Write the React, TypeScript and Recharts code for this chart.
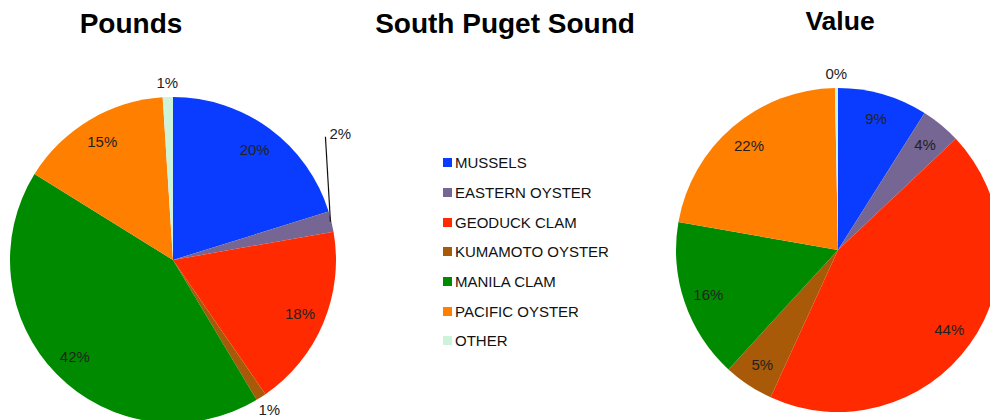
import React from 'react';
import { PieChart, Pie, Cell, Legend } from 'recharts';

const categories = [
  'MUSSELS',
  'EASTERN OYSTER',
  'GEODUCK CLAM',
  'KUMAMOTO OYSTER',
  'MANILA CLAM',
  'PACIFIC OYSTER',
  'OTHER',
];
// percent of pounds harvested, clockwise from 12 o'clock
const poundsShare = [20, 2, 18, 1, 42, 15, 1];
// percent of value, "OTHER" shows as 0%
const valueShare = [9, 4, 44, 5, 16, 22, 0.3];

const colors = ['#0a3cff', '#766693', '#ff2a00', '#a85a08', '#008a00', '#ff7f00', '#cdf3da'];

const FONT = '"Liberation Sans", Arial, Helvetica, sans-serif';
const RAD = Math.PI / 180;

const poundsData = categories.map((name, i) => ({ name, value: poundsShare[i] }));
const valueData = categories.map((name, i) => ({ name, value: valueShare[i] }));

const makeLabel = (callouts: string[]) => (props: any) => {
  const { cx, cy, midAngle, outerRadius, value, name, index } = props;
  const cos = Math.cos(-midAngle * RAD);
  const sin = Math.sin(-midAngle * RAD);
  const text = `${Math.round(value)}%`;

  if (callouts.includes(name)) {
    // leader line going straight up from the slice edge
    const sx = cx + (outerRadius - 1) * cos;
    const sy = cy + (outerRadius - 1) * sin;
    const ex = sx - 5;
    const ey = sy - 85;
    return (
      <g key={`lbl-${index}`}>
        <line x1={sx} y1={sy} x2={ex} y2={ey} stroke="#111" strokeWidth={1.2} />
        <text x={ex + 4} y={ey + 2} fontSize={15} fill="#222" fontFamily={FONT} textAnchor="start">
          {text}
        </text>
      </g>
    );
  }

  const r = value < 3 ? outerRadius + 15 : outerRadius * 0.845;
  const x = cx + r * cos;
  const y = cy + r * sin;
  return (
    <text
      key={`lbl-${index}`}
      x={x}
      y={y}
      fontSize={15}
      fill="#222"
      fontFamily={FONT}
      textAnchor="middle"
      dominantBaseline="central"
    >
      {text}
    </text>
  );
};

const renderLegend = () => (
  <div style={{ fontFamily: FONT, fontSize: 15, color: '#111' }}>
    {categories.map((c, i) => (
      <div key={c} style={{ display: 'flex', alignItems: 'center', height: 29.7 }}>
        <span
          style={{ width: 9, height: 9, background: colors[i], marginRight: 3, display: 'inline-block' }}
        />
        <span>{c}</span>
      </div>
    ))}
  </div>
);

export default function App() {
  return (
    <div style={{ position: 'absolute', left: 0, top: 0, width: 990, height: 420, background: '#fff' }}>
      <PieChart width={990} height={420} margin={{ top: 0, right: 0, bottom: 0, left: 0 }}>
        <Pie
          data={poundsData}
          dataKey="value"
          nameKey="name"
          cx={173}
          cy={260}
          outerRadius={163}
          startAngle={90}
          endAngle={-270}
          stroke="none"
          label={makeLabel(['EASTERN OYSTER'])}
          labelLine={false}
          isAnimationActive={false}
        >
          {poundsData.map((d, i) => (
            <Cell key={d.name} fill={colors[i]} />
          ))}
        </Pie>
        <Pie
          data={valueData}
          dataKey="value"
          nameKey="name"
          cx={838}
          cy={250}
          outerRadius={162}
          startAngle={90}
          endAngle={-270}
          stroke="none"
          label={makeLabel([])}
          labelLine={false}
          isAnimationActive={false}
        >
          {valueData.map((d, i) => (
            <Cell key={d.name} fill={colors[i]} />
          ))}
        </Pie>
        <Legend
          layout="vertical"
          align="center"
          verticalAlign="middle"
          content={renderLegend}
          wrapperStyle={{ left: 443, top: 148, width: 200 }}
        />
      </PieChart>
      <svg
        width={990}
        height={420}
        style={{ position: 'absolute', left: 0, top: 0, pointerEvents: 'none' }}
      >
        <text x={131} y={33} textAnchor="middle" fontSize={28} fontWeight="bold" fontFamily={FONT} fill="#000">
          Pounds
        </text>
        <text x={505} y={33} textAnchor="middle" fontSize={28} fontWeight="bold" fontFamily={FONT} fill="#000">
          South Puget Sound
        </text>
        <text x={840} y={30} textAnchor="middle" fontSize={26.5} fontWeight="bold" fontFamily={FONT} fill="#000">
          Value
        </text>
      </svg>
    </div>
  );
}
